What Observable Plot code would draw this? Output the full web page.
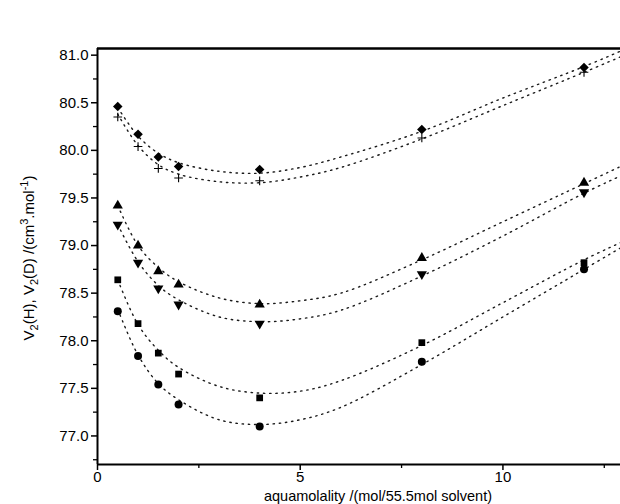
<!DOCTYPE html>
<html>
<head>
<meta charset="utf-8">
<script src="https://cdn.jsdelivr.net/npm/d3@7"></script>
<script src="https://cdn.jsdelivr.net/npm/@observablehq/plot@0.6"></script>
<style>
  html, body { margin: 0; padding: 0; background: #fff; }
  #chart { width: 620px; height: 504px; }
</style>
</head>
<body>
<div id="chart"></div>
<script>
// ---- data ----
const molality = [0.5, 1, 1.5, 2, 4, 8, 12];
const diamondV = [80.46, 80.17, 79.93, 79.83, 79.80, 80.22, 80.87];
const plusV    = [80.35, 80.04, 79.81, 79.71, 79.68, 80.13, 80.82];
const triUpV   = [79.42, 79.00, 78.73, 78.59, 78.38, 78.87, 79.66];
const triDownV = [79.22, 78.82, 78.55, 78.38, 78.18, 78.70, 79.56];
const squareV  = [78.64, 78.18, 77.87, 77.65, 77.40, 77.98, 78.82];
const circleV  = [78.31, 77.84, 77.54, 77.33, 77.10, 77.78, 78.75];

// fitted (dotted) curves, read at these molalities
const curveX        = [0.5, 1, 1.5, 2, 3, 4, 5, 6, 8, 10, 12, 13];
const diamondCurve  = [80.45, 80.15, 79.97, 79.87, 79.78, 79.76, 79.82, 79.93, 80.20, 80.55, 80.88, 81.06];
const plusCurve     = [80.38, 80.05, 79.85, 79.75, 79.67, 79.66, 79.72, 79.82, 80.12, 80.47, 80.82, 81.00];
const triUpCurve    = [79.42, 79.00, 78.77, 78.62, 78.45, 78.39, 78.42, 78.50, 78.85, 79.25, 79.65, 79.85];
const triDownCurve  = [79.22, 78.83, 78.58, 78.43, 78.25, 78.20, 78.23, 78.32, 78.68, 79.10, 79.55, 79.75];
const squareCurve   = [78.64, 78.17, 77.90, 77.72, 77.52, 77.45, 77.47, 77.58, 77.95, 78.40, 78.85, 79.05];
const circleCurve   = [78.33, 77.85, 77.55, 77.38, 77.17, 77.12, 77.17, 77.30, 77.75, 78.25, 78.75, 79.00];

const xDomain = [0, 12.9];
const yDomain = [76.7, 81.07];
const xMajor = [0, 5, 10];
const xMinor = [2.5, 7.5, 12.5];
const yMajor = [77.0, 77.5, 78.0, 78.5, 79.0, 79.5, 80.0, 80.5, 81.0];
const yMinor = [76.75, 77.25, 77.75, 78.25, 78.75, 79.25, 79.75, 80.25, 80.75];

const xLabel = "aquamolality /(mol/55.5mol solvent)";

// ---- build tables ----
const seriesDefs = [
  {name: "diamond", pts: diamondV, curve: diamondCurve, symbol: "square", rotate: 45, r: 3.8, fill: "black", stroke: "none"},
  {name: "plus", pts: plusV, curve: plusCurve, symbol: "plus", rotate: 0, r: 2.9, fill: "none", stroke: "black"},
  {name: "triUp", pts: triUpV, curve: triUpCurve, symbol: "triangle", rotate: 0, r: 3.8, fill: "black", stroke: "none"},
  {name: "triDown", pts: triDownV, curve: triDownCurve, symbol: "triangle", rotate: 180, r: 3.8, fill: "black", stroke: "none"},
  {name: "square", pts: squareV, curve: squareCurve, symbol: "square", rotate: 0, r: 3.8, fill: "black", stroke: "none"},
  {name: "circle", pts: circleV, curve: circleCurve, symbol: "circle", rotate: 0, r: 4, fill: "black", stroke: "none"}
];

const marks = [];
for (const s of seriesDefs) {
  const curveData = curveX.map((x, i) => ({x, y: s.curve[i]}));
  marks.push(Plot.line(curveData, {
    x: "x", y: "y", curve: "catmull-rom",
    stroke: "#1a1a1a", strokeWidth: 1.4, strokeDasharray: "1.4 4.8", clip: true
  }));
}
for (const s of seriesDefs) {
  const pts = molality.map((x, i) => ({x, y: s.pts[i]}));
  marks.push(Plot.dot(pts, {
    x: "x", y: "y", symbol: () => s.symbol, r: s.r, rotate: s.rotate,
    fill: s.fill, stroke: s.stroke, strokeWidth: s.stroke === "none" ? 0 : 1.1
  }));
}
// frame lines
marks.push(Plot.ruleX([xDomain[0]], {stroke: "black", strokeWidth: 2}));
marks.push(Plot.ruleY([yDomain[0]], {stroke: "black", strokeWidth: 2}));
marks.push(Plot.ruleY([yDomain[1]], {stroke: "black", strokeWidth: 2.6}));
// minor ticks
marks.push(Plot.ruleX(xMinor, {y1: yDomain[0], y2: yDomain[0], insetBottom: -4, stroke: "black", strokeWidth: 1.3}));
marks.push(Plot.ruleY(yMinor, {x1: xDomain[0], x2: xDomain[0], insetLeft: -4, stroke: "black", strokeWidth: 1.3}));

const chart = Plot.plot({
  width: 620,
  height: 504,
  marginLeft: 97,
  marginRight: 0,
  marginTop: 48,
  marginBottom: 40,
  style: {fontFamily: "'Liberation Sans', Arial, sans-serif", fontSize: "15px", color: "#000", background: "#fff"},
  x: {domain: xDomain, ticks: xMajor, tickFormat: d => String(d), tickSize: 6, tickPadding: 1, label: null},
  y: {domain: yDomain, ticks: yMajor, tickFormat: d3.format(".1f"), tickSize: 6, tickPadding: 3, label: null},
  marks
});

const svg = d3.select(chart);
svg.selectAll("[aria-label='x-axis'] line, [aria-label='y-axis'] line, [aria-label='x-axis tick'] path, [aria-label='y-axis tick'] path")
  .attr("stroke-width", 1.5);

// x label
svg.append("text")
  .attr("x", 378).attr("y", 501)
  .attr("text-anchor", "middle")
  .attr("font-size", 14.5)
  .attr("font-family", "'Liberation Sans', Arial, sans-serif")
  .attr("fill", "#000")
  .text(xLabel);

// y label with sub/superscripts
const yl = svg.append("text")
  .attr("transform", "translate(34,258) rotate(-90)")
  .attr("text-anchor", "middle")
  .attr("font-size", 15)
  .attr("font-family", "'Liberation Sans', Arial, sans-serif")
  .attr("fill", "#000");
const parts = [
  ["V", 0], ["2", 1], ["(H), V", 0], ["2", 1], ["(D) /(cm", 0], ["3", -1], [".mol", 0], ["-1", -1], [")", 0]
];
let cur = 0;
for (const [t, k] of parts) {
  const target = k === 1 ? 4 : k === -1 ? -6 : 0;
  const ts = yl.append("tspan").text(t).attr("dy", target - cur);
  if (k !== 0) ts.attr("font-size", 11);
  cur = target;
}

document.getElementById("chart").appendChild(chart);
</script>
</body>
</html>
